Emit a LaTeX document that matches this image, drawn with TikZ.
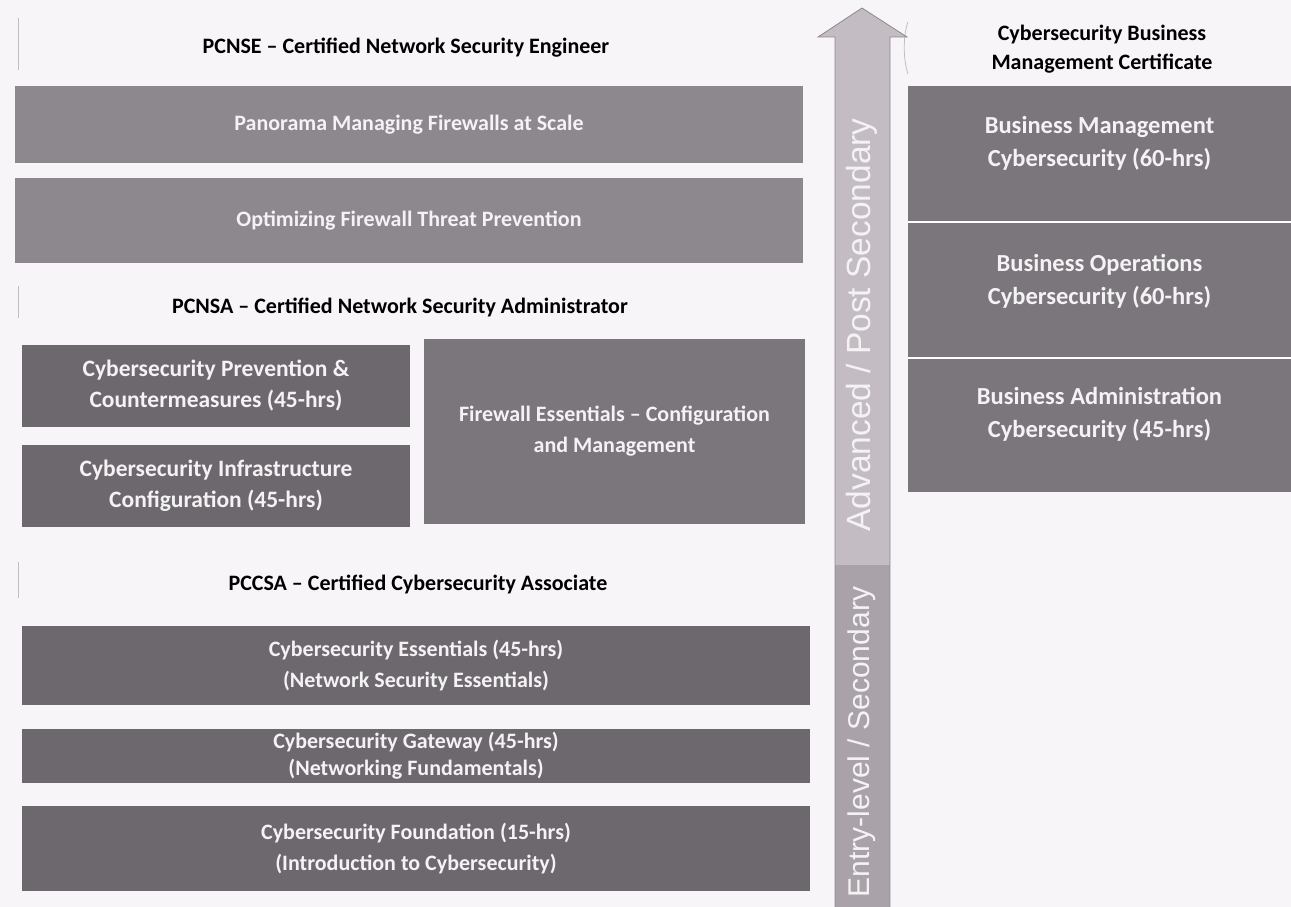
\documentclass[tikz,border=0pt]{standalone}
\usepackage{fontspec}
\setmainfont{Carlito}
\newfontfamily\arrowfont{Liberation Sans}
\definecolor{bg}{HTML}{F8F5F8}
\definecolor{boxlight}{HTML}{8C888D}
\definecolor{boxdark}{HTML}{6C686D}
\definecolor{boxmid}{HTML}{7A767B}
\definecolor{arrowup}{HTML}{C3BDC3}
\definecolor{arrowlow}{HTML}{A9A3A9}
\definecolor{arrowedge}{HTML}{8E888E}
\definecolor{txtwhite}{HTML}{F4F2F4}
\tikzset{
  cbox/.style={rectangle, draw=none, inner sep=0pt, text=txtwhite,
    font=\fontsize{22}{31}\selectfont\bfseries, align=center},
  bigtxt/.style={font=\fontsize{23.5}{31}\selectfont\bfseries},
  tighttxt/.style={font=\fontsize{22}{27}\selectfont\bfseries},
  rtxt/.style={font=\fontsize{24.5}{33}\selectfont\bfseries},
  ctitle/.style={inner sep=0pt, text=black, font=\fontsize{22}{29}\selectfont\bfseries, align=center},
  arrtxt/.style={inner sep=0pt, text=txtwhite, font=\arrowfont\fontsize{32}{34}\selectfont, rotate=90},
  faint/.style={draw=black!25, line width=0.8pt}
}
\begin{document}
\begin{tikzpicture}[x=1pt,y=-1pt]
\fill[bg] (0,0) rectangle (1291,907);
\useasboundingbox (0,0) rectangle (1291,907);

% faint marks
\draw[faint] (18,18) -- (18,70);
\draw[faint] (18,286) -- (18,318);
\draw[faint] (18,562) -- (18,598);
\draw[faint] (908,22) .. controls (903,35) and (903,60) .. (908,74);

% titles
\node[ctitle] (pcnse) at (406,48) {PCNSE -- Certified Network Security Engineer};
\node[ctitle] (pcnsa) at (400,307) {PCNSA -- Certified Network Security Administrator};
\node[ctitle] (pccsa) at (418,584) {PCCSA -- Certified Cybersecurity Associate};
\node[ctitle] (cbmc) at (1102,49) {Cybersecurity Business\\Management Certificate};

% left boxes
\node[cbox, fill=boxlight, minimum width=788, minimum height=77] (pan) at (409,124.5) {Panorama Managing Firewalls at Scale};
\node[cbox, fill=boxlight, minimum width=788, minimum height=85] (opt) at (409,220.5) {Optimizing Firewall Threat Prevention};
\node[cbox, bigtxt, fill=boxdark, minimum width=388, minimum height=82] (prev) at (216,386) {Cybersecurity Prevention \&\\Countermeasures (45-hrs)};
\node[cbox, bigtxt, fill=boxdark, minimum width=388, minimum height=82] (infra) at (216,486) {Cybersecurity Infrastructure\\Configuration (45-hrs)};
\node[cbox, fill=boxmid, minimum width=381, minimum height=185] (fw) at (614.5,431.5) {Firewall Essentials -- Configuration\\and Management};
\node[cbox, fill=boxdark, minimum width=788, minimum height=79] (ess) at (416,665.5) {Cybersecurity Essentials (45-hrs)\\(Network Security Essentials)};
\node[cbox, tighttxt, fill=boxdark, minimum width=788, minimum height=54] (gate) at (416,756) {Cybersecurity Gateway (45-hrs)\\(Networking Fundamentals)};
\node[cbox, fill=boxdark, minimum width=788, minimum height=85] (found) at (416,848.5) {Cybersecurity Foundation (15-hrs)\\(Introduction to Cybersecurity)};

% right boxes
\node[cbox, fill=boxmid, minimum width=383, minimum height=136] (bm) at (1099.5,154) {};
\node[cbox, fill=boxmid, minimum width=383, minimum height=136] (bo) at (1099.5,290) {};
\node[cbox, fill=boxmid, minimum width=383, minimum height=134] (ba) at (1099.5,425) {};
\draw[white, line width=1.5pt] (bm.south west) -- (bm.south east);
\draw[white, line width=1.5pt] (bo.south west) -- (bo.south east);
\node[cbox, rtxt] (bmt) at ([yshift=11pt]bm.center) {Business Management\\Cybersecurity (60-hrs)};
\node[cbox, rtxt] (bot) at ([yshift=9pt]bo.center) {Business Operations\\Cybersecurity (60-hrs)};
\node[cbox, rtxt] (bat) at ([yshift=11pt]ba.center) {Business Administration\\Cybersecurity (45-hrs)};

% arrow
\coordinate (tip) at (862,8);
\fill[arrowup] (tip) -- (907,37) -- (890,37) -- (890,565) -- (835,565) -- (835,37) -- (818,37) -- cycle;
\fill[arrowlow] (835,565) rectangle (890,907);
\draw[arrowedge, line width=0.8pt] (835,907) -- (835,37) -- (818,37) -- (tip) -- (907,37) -- (890,37) -- (890,907);
\node[arrtxt, font=\arrowfont\fontsize{33.5}{35}\selectfont] (adv) at (862,325) {Advanced / Post Secondary};
\node[arrtxt, font=\arrowfont\fontsize{30}{32}\selectfont] (entry) at (862,742) {Entry-level / Secondary};
\end{tikzpicture}
\end{document}
